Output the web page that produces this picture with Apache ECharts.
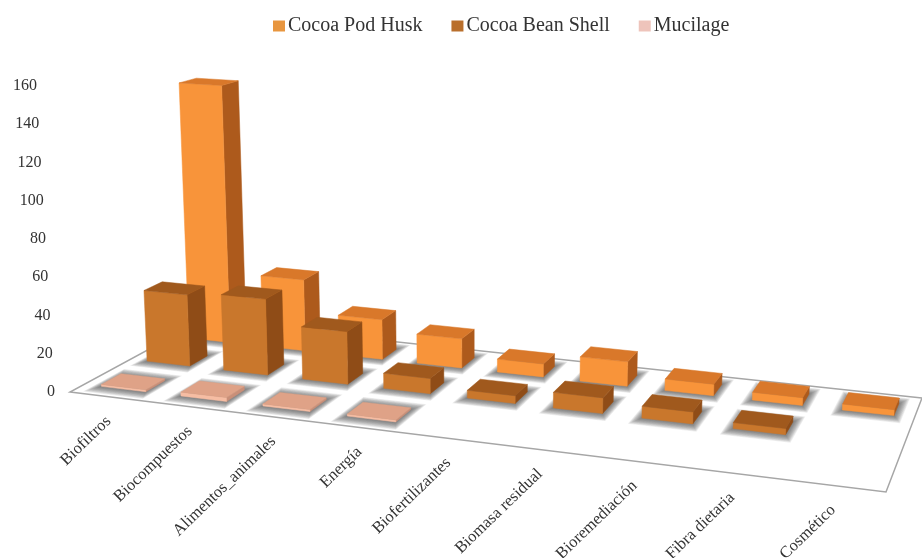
<!DOCTYPE html>
<html>
<head>
<meta charset="utf-8">
<style>html,body{margin:0;padding:0;background:#fff}#chart{width:922px;height:558px}</style>
<script src="https://cdn.jsdelivr.net/npm/echarts@6/dist/echarts.min.js"></script>
</head>
<body>
<div id="chart"></div>
<script>
// datos
const categories = ['Biofiltros', 'Biocompuestos', 'Alimentos_animales', 'Energía', 'Biofertilizantes', 'Biomasa residual', 'Bioremediación', 'Fibra dietaria', 'Cosmético'];
const yTicks = [0, 20, 40, 60, 80, 100, 120, 140, 160];
const podHusk = [147, 40, 22, 16, 7, 13, 6, 4, 3];
const beanShell = [39, 41, 28, 8, 4, 8, 6, 3, null];
const mucilage = [1, 2, 1, 1, null, null, null, null, null];

// esquinas del piso: frente-izq, frente-der, fondo-der, fondo-izq
const floor = [[70, 392], [886, 492], [922, 398], [201, 321]];
const serif = '"Liberation Serif", "Times New Roman", serif';

// homografia cuadrado unidad -> piso
const [p0, p1, p2, p3] = floor;
const dx1 = p1[0] - p2[0], dx2 = p3[0] - p2[0], sx = p0[0] - p1[0] + p2[0] - p3[0];
const dy1 = p1[1] - p2[1], dy2 = p3[1] - p2[1], sy = p0[1] - p1[1] + p2[1] - p3[1];
const det = dx1 * dy2 - dx2 * dy1;
const g = (sx * dy2 - dx2 * sy) / det, h = (dx1 * sy - sx * dy1) / det;
const a = p1[0] - p0[0] + g * p1[0], b = p3[0] - p0[0] + h * p3[0];
const d = p1[1] - p0[1] + g * p1[1], e = p3[1] - p0[1] + h * p3[1];

function project(u, v, lift) {
    const w = g * u + h * v + 1;
    const x = (a * u + b * v + p0[0]) / w;
    const y = (d * u + e * v + p0[1]) / w;
    // la altura se reduce con la profundidad; las verticales se abren hacia arriba
    const up = lift / w;
    return [x + (x - 480) * up / 7500, y - up];
}

function poly(points, fill, z2) {
    return {
        type: 'polygon', z2: z2,
        shape: { points: points },
        style: { fill: fill, stroke: fill, lineWidth: 0.5 }
    };
}

function box3d(row, faces, rowOrder) {
    return function (params, api) {
        const cat = api.value(0);
        const sys = params.coordSys;
        const base = api.coord([cat, 0]);
        const lift = base[1] - api.coord([cat, api.value(1)])[1];
        const cu = (base[0] - sys.x) / sys.width;
        const hu = api.size([1, 0])[0] * 0.28 / sys.width;
        const cv = (row + 0.5) / 3, hv = 0.21 / 3;
        const pt = (u, v, l) => project(cu + u * hu, cv + v * hv, l);
        const z = 20 + rowOrder * 20 + cat;
        // sombra difusa sobre el piso: capas concentricas
        const halo = [];
        for (let i = 12; i >= 1; i--) {
            const pu = 1 + i * 0.028, pv = 1 + i * 0.09;
            halo.push({
                type: 'polygon', z2: 20 - i,
                shape: { points: [pt(-pu, -pv, 0), pt(pu, -pv, 0), pt(pu, pv, 0), pt(-pu, pv, 0)] },
                style: { fill: 'rgba(80,80,80,0.09)' }
            });
        }
        return {
            type: 'group',
            children: halo.concat([
                poly([pt(1, -1, 0), pt(1, 1, 0), pt(1, 1, lift), pt(1, -1, lift)], faces.side, z),
                poly([pt(-1, -1, 0), pt(1, -1, 0), pt(1, -1, lift), pt(-1, -1, lift)], faces.front, z),
                poly([pt(-1, -1, lift), pt(1, -1, lift), pt(1, 1, lift), pt(-1, 1, lift)], faces.top, z)
            ])
        };
    };
}

function rows(values) {
    return values.map((v, i) => [i, v]).filter(r => r[1] !== null);
}

function barSeries(name, values, row, rowOrder, faces) {
    return {
        name: name, type: 'custom', silent: true,
        itemStyle: { color: faces.legend },
        encode: { x: 0, y: 1 },
        renderItem: box3d(row, faces, rowOrder),
        data: rows(values)
    };
}

const tickRich = {};
yTicks.forEach(t => {
    tickRich['t' + t] = { padding: [0, 18 * t / 160, 0, 0], fontFamily: serif, fontSize: 16, color: '#333' };
});

const myChart = echarts.init(document.getElementById('chart'));
myChart.setOption({
    animation: false,
    backgroundColor: '#fff',
    legend: {
        top: 11, left: 268,
        data: ['Cocoa Pod Husk', 'Cocoa Bean Shell', 'Mucilage'],
        icon: 'rect', itemWidth: 12, itemHeight: 11, itemGap: 29,
        textStyle: { fontFamily: serif, fontSize: 20, color: '#333', padding: [0, 0, 0, -2] }
    },
    grid: { left: 70, right: 36, top: 86, bottom: 166 },
    xAxis: { type: 'category', data: categories, show: false },
    yAxis: {
        type: 'value', min: 0, max: 160, interval: 20,
        axisLine: { show: false }, axisTick: { show: false }, splitLine: { show: false },
        axisLabel: { margin: 15, formatter: v => '{t' + v + '|' + v + '}', rich: tickRich }
    },
    series: [
        {
            // piso del grafico
            type: 'custom', silent: true, data: [[0, 0]], encode: { x: 0, y: 1 },
            renderItem: () => ({
                type: 'polygon', z2: 1,
                shape: { points: floor },
                style: { fill: '#fff', stroke: '#a6a6a6', lineWidth: 1.5 }
            })
        },
        barSeries('Cocoa Pod Husk', podHusk, 2, 0, { front: '#f8943a', side: '#ad5a1c', top: '#d9782a', legend: '#e8963f' }),
        barSeries('Cocoa Bean Shell', beanShell, 1, 1, { front: '#c9772c', side: '#8f4c17', top: '#a0591d', legend: '#b96f2c' }),
        barSeries('Mucilage', mucilage, 0, 2, { front: '#f6bda3', side: '#c98f78', top: '#dfa287', legend: '#eec4bb' }),
        {
            // etiquetas de categoria siguiendo el borde frontal
            type: 'custom', silent: true, encode: { x: 0, y: 1 },
            data: categories.map((c, i) => [i, 0]),
            renderItem: (params, api) => {
                const sys = params.coordSys;
                const at = project((api.coord([api.value(0), 0])[0] - sys.x) / sys.width, 0, 0);
                return {
                    type: 'text', z2: 90,
                    x: at[0] - 1, y: at[1] + 22,
                    rotation: 44 * Math.PI / 180,
                    style: {
                        text: categories[api.value(0)], align: 'right', verticalAlign: 'middle',
                        font: '16.5px ' + serif, fill: '#333'
                    }
                };
            }
        }
    ]
});
</script>
</body>
</html>
